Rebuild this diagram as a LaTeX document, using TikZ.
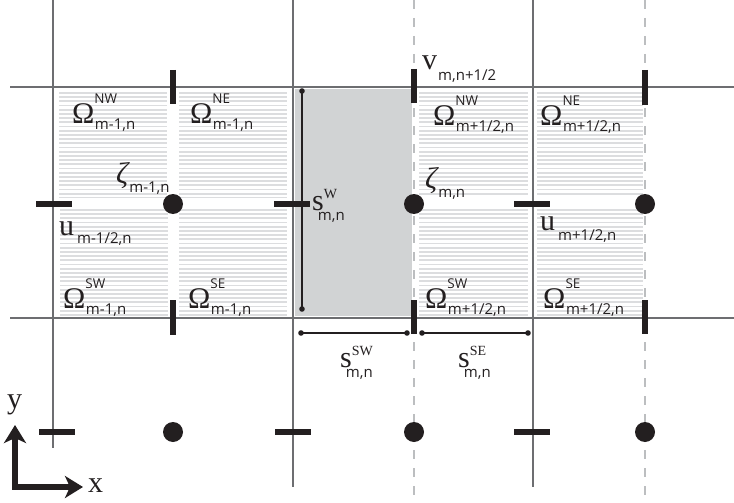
\documentclass[tikz,border=0pt]{standalone}
\usepackage{fontspec}
\setmainfont{Liberation Serif}
\newfontfamily\sansf{Open Sans}
\usetikzlibrary{arrows.meta}
\definecolor{ink}{HTML}{231F20}
\definecolor{gridc}{HTML}{6D6E71}
\definecolor{dgridc}{HTML}{BCBEC0}
\definecolor{stripec}{HTML}{DCDDDF}
\definecolor{shadec}{HTML}{D1D3D4}
\newcommand{\mainf}{\fontsize{30}{36}\selectfont}
\newcommand{\subf}{\sansf\fontsize{15}{18}\selectfont}
\newcommand{\supf}{\sansf\fontsize{13.5}{16}\selectfont}
\newcommand{\ssupf}{\fontsize{14}{17}\selectfont}
% #1 main, #2 sup, #3 sub, #4 raise, #5 drop, #6 kern
\newcommand{\mylab}[6]{{\mainf #1}\rlap{\raisebox{#4}{#2}}\kern#6\raisebox{-#5}{\subf #3}}
\newcommand{\myom}[2]{\mylab{Ω}{\supf #1}{#2}{20pt}{6pt}{0.5pt}}
\newcommand{\myhatch}[4]{%
  \begin{scope}
    \clip (#1,#2) rectangle (#3,#4);
    \foreach \k in {0,...,30} {\draw[stripe] (#1,#2+\k*4.2+0.8) -- (#3,#2+\k*4.2+0.8);}
  \end{scope}}
\tikzset{
  stripe/.style={draw=stripec, line width=1.8pt},
  gridline/.style={draw=gridc, line width=2pt},
  dgridline/.style={draw=dgridc, line width=2pt, dash pattern=on 9pt off 9pt},
  tick/.style={draw=ink, line width=6pt},
  dot/.style={circle, fill=ink, inner sep=0pt, minimum size=20pt},
  sline/.style={draw=ink, line width=2.5pt},
  lab/.style={anchor=base west, inner sep=0pt, text=ink},
  axis/.style={draw=ink, line width=5.5pt, miter limit=10,
    {Stealth[length=18pt,width=22pt,inset=5pt]}-{Stealth[length=18pt,width=22pt,inset=5pt]}},
}
\begin{document}
\begin{tikzpicture}[x=1pt,y=-1pt]
\useasboundingbox (0,0) rectangle (734,503);
% hatched quadrants
\myhatch{59}{92}{167}{197}
\myhatch{179}{92}{287}{197}
\myhatch{60}{209}{168}{315}
\myhatch{179}{209}{287}{315}
\myhatch{419}{92}{528}{196}
\myhatch{537}{92}{643}{196}
\myhatch{419}{209}{528}{315}
\myhatch{537}{209}{643}{315}
% shaded cell
\fill[shadec] (295,89) rectangle (412,316);
% grid
\draw[gridline] (10,87) -- (734,87);
\draw[gridline] (10,318) -- (734,318);
\draw[gridline] (53,0) -- (53,448);
\draw[gridline] (293,0) -- (293,487);
\draw[gridline] (533,0) -- (533,487);
\draw[dgridline] (414,0) -- (414,503);
\draw[dgridline] (645,0) -- (645,503);
% s lengths
\coordinate (sWa) at (302,91); \coordinate (sWb) at (302,309);
\coordinate (sSWa) at (301,333); \coordinate (sSWb) at (407,333);
\coordinate (sSEa) at (422,333); \coordinate (sSEb) at (528,333);
\draw[sline] (sWa) -- (sWb);
\draw[sline] (sSWa) -- (sSWb);
\draw[sline] (sSEa) -- (sSEb);
\foreach \p in {sWa,sWb,sSWa,sSWb,sSEa,sSEb} {\fill[ink] (\p) circle (2.8pt);}
% ticks
\draw[tick] (173,70) -- (173,104);
\draw[tick] (414,69) -- (414,103);
\draw[tick] (645,70) -- (645,105);
\draw[tick] (173,300) -- (173,335);
\draw[tick] (414,300) -- (414,334);
\draw[tick] (645,300) -- (645,334);
\draw[tick] (36,204) -- (72,204);
\draw[tick] (274,204) -- (310,204);
\draw[tick] (514,204) -- (550,204);
\draw[tick] (39,432) -- (75,432);
\draw[tick] (275,432) -- (311,432);
\draw[tick] (514,432) -- (550,432);
% dots
\node[dot] (z1) at (173,204) {};
\node[dot] (z2) at (414,204) {};
\node[dot] (z3) at (645,204) {};
\node[dot] (z4) at (173,432) {};
\node[dot] (z5) at (414,432) {};
\node[dot] (z6) at (645,432) {};
% labels
\node[lab] (o1) at (72,123) {\myom{NW}{m-1,n}};
\node[lab] (o2) at (190,123) {\myom{NE}{m-1,n}};
\node[lab] (o3) at (63,308) {\myom{SW}{m-1,n}};
\node[lab] (o4) at (188,308) {\myom{SE}{m-1,n}};
\node[lab] (o5) at (433,125) {\myom{NW}{m+1/2,n}};
\node[lab] (o6) at (540,125) {\myom{NE}{m+1/2,n}};
\node[lab] (o7) at (425,308) {\myom{SW}{m+1/2,n}};
\node[lab] (o8) at (543,308) {\myom{SE}{m+1/2,n}};
\node[lab] (zl1) at (116,183) {\mylab{\itshape ζ}{}{m-1,n}{0pt}{9pt}{1pt}};
\node[lab] (zl2) at (425,188) {\mylab{\itshape ζ}{}{m,n}{0pt}{9pt}{1pt}};
\node[lab] (u1) at (59,235) {\mylab{u}{}{m-1/2,n}{0pt}{8pt}{3pt}};
\node[lab] (u2) at (540,230) {\mylab{u}{}{m+1/2,n}{0pt}{10pt}{3pt}};
\node[lab] (v1) at (422,70) {\mylab{v}{}{m,n+1/2}{0pt}{11pt}{1pt}};
\node[lab] (sw) at (312,210) {\mylab{s}{\ssupf W}{m,n}{12pt}{10pt}{-6pt}};
\node[lab] (ssw) at (340,367) {\mylab{s}{\ssupf SW}{m,n}{12pt}{10pt}{-6pt}};
\node[lab] (sse) at (458,367) {\mylab{s}{\ssupf SE}{m,n}{12pt}{10pt}{-6pt}};
% axes
\coordinate (ya) at (15,425);
\coordinate (xa) at (83,487);
\draw[axis] (ya) |- (xa);
\node[lab] (yl) at (7,408) {\mainf y};
\node[lab] (xl) at (88,492) {\mainf x};
\end{tikzpicture}
\end{document}
